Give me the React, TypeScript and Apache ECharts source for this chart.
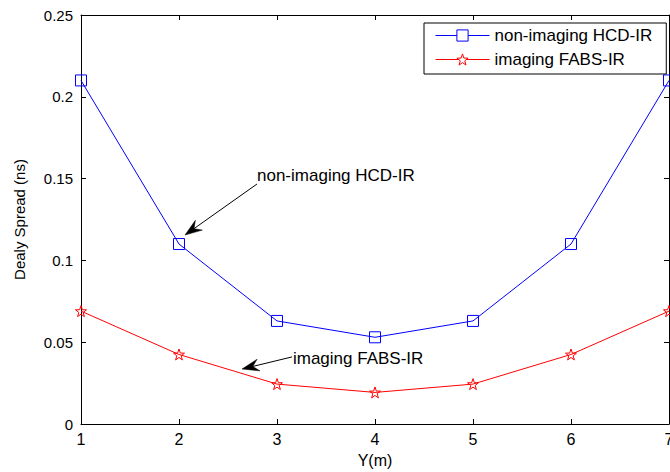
import React, { useEffect, useRef } from "react";
import * as echarts from "echarts";

const yPositions = [1, 2, 3, 4, 5, 6, 7];
const hcdValues = [0.21, 0.11, 0.063, 0.053, 0.063, 0.11, 0.21];
const fabsValues = [0.069, 0.0425, 0.0244, 0.0193, 0.0244, 0.0425, 0.069];
const seriesNames = ["non-imaging HCD-IR", "imaging FABS-IR"];
const xAxisName = "Y(m)";
const yAxisName = "Dealy Spread (ns)";

// annotations in data coordinates: text anchor, arrow start, arrow end
const annotations = [
  { text: "non-imaging HCD-IR", at: [2.796, 0.1522], from: [2.796, 0.1467], to: [2.061, 0.1155] },
  { text: "imaging FABS-IR", at: [3.163, 0.0403], from: [3.153, 0.041], to: [2.643, 0.0336] },
];

const FONT = "'Liberation Sans', Arial, sans-serif";
const STAR =
  "path://M0,-10 L2.35,-3.24 L9.51,-3.09 L3.8,1.24 L5.88,8.09 L0,4 L-5.88,8.09 L-3.8,1.24 L-9.51,-3.09 L-2.35,-3.24 Z";

export default function App() {
  const ref = useRef<HTMLDivElement>(null);
  useEffect(() => {
    document.body.style.margin = "0";
    const chart = echarts.init(ref.current!, null, { renderer: "svg" });
    const tickCommon = { inside: true, length: 5, lineStyle: { color: "#000" } };
    const lineCommon = { show: true, onZero: false, lineStyle: { color: "#000", width: 1 } };
    chart.setOption({
      animation: false,
      backgroundColor: "#fff",
      textStyle: { fontFamily: FONT },
      grid: {
        left: 81,
        right: 1,
        top: 15,
        bottom: 48,
        containLabel: false,
        outerBoundsMode: "none",
      },
      legend: {
        left: 424,
        top: 23,
        orient: "vertical",
        itemWidth: 54,
        itemHeight: 14,
        itemGap: 7,
        padding: [4, 14, 6, 11],
        borderColor: "#000",
        borderWidth: 1,
        backgroundColor: "#fff",
        itemStyle: { color: "#fff", borderWidth: 1 },
        lineStyle: { width: 1 },
        textStyle: { fontSize: 17, color: "#000", fontFamily: FONT },
        data: seriesNames,
      },
      xAxis: [
        {
          type: "value",
          min: 1,
          max: 7,
          interval: 1,
          name: xAxisName,
          nameLocation: "middle",
          nameGap: 28,
          nameTextStyle: { fontSize: 16, color: "#000", fontFamily: FONT },
          axisLine: lineCommon,
          axisTick: tickCommon,
          axisLabel: { fontSize: 16, color: "#000", margin: 7, fontFamily: FONT },
          splitLine: { show: false },
        },
        {
          type: "value",
          position: "top",
          min: 1,
          max: 7,
          interval: 1,
          axisLine: lineCommon,
          axisTick: tickCommon,
          axisLabel: { show: false },
          splitLine: { show: false },
        },
      ],
      yAxis: [
        {
          type: "value",
          min: 0,
          max: 0.25,
          interval: 0.05,
          name: yAxisName,
          nameLocation: "middle",
          nameGap: 54,
          nameTextStyle: { fontSize: 15, color: "#000", fontFamily: FONT },
          axisLine: lineCommon,
          axisTick: tickCommon,
          axisLabel: { fontSize: 15, color: "#000", margin: 8, fontFamily: FONT },
          splitLine: { show: false },
        },
        {
          type: "value",
          position: "right",
          min: 0,
          max: 0.25,
          interval: 0.05,
          axisLine: lineCommon,
          axisTick: tickCommon,
          axisLabel: { show: false },
          splitLine: { show: false },
        },
      ],
      series: [
        {
          name: seriesNames[0],
          type: "line",
          data: yPositions.map((x, i) => [x, hcdValues[i]]),
          symbol: "rect",
          symbolSize: 11,
          showAllSymbol: true,
          lineStyle: { color: "#0000ff", width: 1 },
          itemStyle: { color: "rgba(0,0,0,0)", borderColor: "#0000ff", borderWidth: 1 },
          emphasis: { disabled: true },
          z: 3,
        },
        {
          name: seriesNames[1],
          type: "line",
          data: yPositions.map((x, i) => [x, fabsValues[i]]),
          symbol: STAR,
          symbolSize: 11,
          showAllSymbol: true,
          lineStyle: { color: "#ff0000", width: 1 },
          itemStyle: { color: "rgba(0,0,0,0)", borderColor: "#ff0000", borderWidth: 1 },
          emphasis: { disabled: true },
          z: 3,
        },
      ],
    });

    const graphics: any[] = [];
    annotations.forEach((a) => {
      const t = chart.convertToPixel({ gridIndex: 0 }, a.at) as number[];
      const s = chart.convertToPixel({ gridIndex: 0 }, a.from) as number[];
      const e = chart.convertToPixel({ gridIndex: 0 }, a.to) as number[];
      const dx = e[0] - s[0];
      const dy = e[1] - s[1];
      const len = Math.hypot(dx, dy);
      const ux = dx / len;
      const uy = dy / len;
      const nx = -uy;
      const ny = ux;
      const L = 17;
      const W = 12;
      const bx = e[0] - ux * L;
      const by = e[1] - uy * L;
      const notchX = e[0] - ux * L * 0.65;
      const notchY = e[1] - uy * L * 0.65;
      graphics.push({
        type: "line",
        shape: { x1: s[0], y1: s[1], x2: notchX, y2: notchY },
        style: { stroke: "#000", lineWidth: 1 },
        z: 10,
      });
      graphics.push({
        type: "polygon",
        shape: {
          points: [
            [e[0], e[1]],
            [bx + (nx * W) / 2, by + (ny * W) / 2],
            [notchX, notchY],
            [bx - (nx * W) / 2, by - (ny * W) / 2],
          ],
        },
        style: { fill: "#000", stroke: "#000", lineWidth: 0.5 },
        z: 10,
      });
      graphics.push({
        type: "text",
        x: t[0],
        y: t[1],
        style: {
          text: a.text,
          fill: "#000",
          fontSize: 17,
          fontFamily: FONT,
          align: "left",
          verticalAlign: "middle",
        },
        z: 10,
      });
    });
    chart.setOption({ graphic: graphics });

    return () => chart.dispose();
  }, []);
  return <div ref={ref} style={{ width: 670, height: 472 }} />;
}
